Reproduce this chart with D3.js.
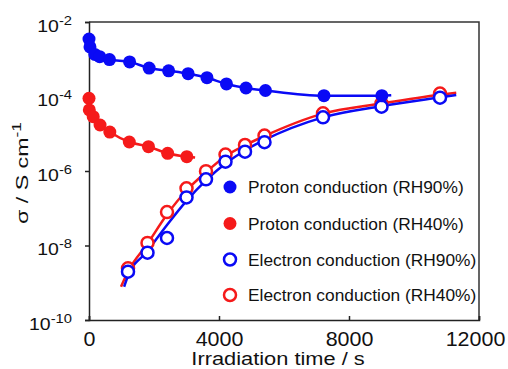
<!DOCTYPE html>
<html><head><meta charset="utf-8">
<script src="https://cdn.jsdelivr.net/npm/d3@7"></script>
<style>body{margin:0;background:#fff}svg{display:block}text{font-family:"Liberation Sans",Arial,sans-serif}</style>
</head><body>
<svg id="c" width="508" height="369"></svg>
<script>
// ---- data ----
const protonRH90Time = [0, 30, 180, 330, 630, 1250, 1850, 2450, 3050, 3630, 4230, 4830, 5430, 7230, 9010];
const protonRH90Sigma = [3.47e-3, 2.14e-3, 1.35e-3, 1.17e-3, 9.8e-4, 8.5e-4, 5.8e-4, 4.9e-4, 4.1e-4, 3.2e-4, 2.17e-4, 1.69e-4, 1.45e-4, 1.05e-4, 1.05e-4];
const protonRH40Time = [0, 10, 130, 340, 640, 1240, 1830, 2420, 3010];
const protonRH40Sigma = [8.95e-5, 4.35e-5, 2.87e-5, 1.72e-5, 1.11e-5, 6.0e-6, 4.5e-6, 2.99e-6, 2.42e-6];
const electronTime = [1200, 1800, 2400, 3000, 3600, 4200, 4800, 5400, 7200, 9000, 10800];
const electronRH90Sigma = [1.98e-9, 6.4e-9, 1.59e-8, 1.95e-7, 5.98e-7, 1.78e-6, 3.3e-6, 5.93e-6, 2.77e-5, 5.32e-5, 9.3e-5];
const electronRH40Sigma = [2.44e-9, 1.17e-8, 7.9e-8, 3.43e-7, 9.9e-7, 2.77e-6, 4.99e-6, 8.97e-6, 3.54e-5, 6.56e-5, 1.2e-4];
// fitted curves
const fitProtonRH90Time = [0, 30, 180, 330, 630, 1250, 1850, 2450, 3050, 3630, 4230, 4830, 5430, 7230, 9010, 9300];
const fitProtonRH90Sigma = [3.47e-3, 2.14e-3, 1.35e-3, 1.17e-3, 9.8e-4, 8.5e-4, 5.8e-4, 4.9e-4, 4.1e-4, 3.2e-4, 2.17e-4, 1.69e-4, 1.45e-4, 1.05e-4, 1.05e-4, 1.08e-4];
const fitProtonRH40Time = [0, 10, 130, 340, 640, 1240, 1830, 2420, 3010, 3265];
const fitProtonRH40Sigma = [8.95e-5, 4.35e-5, 2.87e-5, 1.72e-5, 1.11e-5, 6.0e-6, 4.5e-6, 2.99e-6, 2.42e-6, 2.3e-6];
const fitElectronRH90Time = [1080, 1200, 1800, 2400, 3000, 3600, 4200, 4800, 5400, 7200, 9000, 10800, 11300];
const fitElectronRH90Sigma = [7.8e-10, 1.51e-9, 7.1e-9, 3.55e-8, 1.58e-7, 5.6e-7, 1.58e-6, 3.55e-6, 6.8e-6, 2.75e-5, 5.5e-5, 9.5e-5, 1.1e-4];
const fitElectronRH40Time = [985, 1200, 1800, 2400, 3000, 3600, 4200, 4800, 5400, 7200, 9000, 10800, 11300];
const fitElectronRH40Sigma = [7.8e-10, 2.0e-9, 1.12e-8, 6.8e-8, 3.0e-7, 9.3e-7, 2.5e-6, 4.9e-6, 8.7e-6, 3.47e-5, 6.5e-5, 1.12e-4, 1.26e-4];
const xTicks = [0, 4000, 8000, 12000];
const yTicks = [1e-2, 1e-4, 1e-6, 1e-8, 1e-10];
const yTickExp = ["-2", "-4", "-6", "-8", "-10"];
const legendLabels = ["Proton conduction (RH90%)", "Proton conduction (RH40%)", "Electron conduction (RH90%)", "Electron conduction (RH40%)"];

// ---- chart ----
const BLUE = "#0a0af5", RED = "#f51a1a";
const FONT = "Liberation Sans, Arial, sans-serif";
const SX = 1.18; // horizontal stretch of the reference's type
const svg = d3.select("#c");
const L = 89, R = 479, T = 22, B = 320;
const x = d3.scaleLinear().domain([0, 12000]).range([L, R]);
const y = d3.scaleLog().domain([1e-10, 1e-2]).range([B, T]);
const zip = (a, b) => a.map((v, i) => [v, b[i]]);

// frame
svg.append("path").attr("d", `M${L},${T}H${R}V${B}`).attr("fill", "none").attr("stroke", "#333").attr("stroke-width", 1.5);

const xAxis = svg.append("g").attr("transform", `translate(0,${B})`)
  .call(d3.axisBottom(x).tickValues(xTicks).tickSize(-4).tickFormat(d3.format("d")));
xAxis.select(".domain").attr("stroke", "#222").attr("stroke-width", 1.5);
xAxis.selectAll(".tick line").attr("stroke", "#222").attr("stroke-width", 1.5);
xAxis.selectAll(".tick text").attr("font-size", 19.5).attr("fill", "#111").attr("font-family", FONT)
  .attr("y", 26).attr("dy", null).attr("transform", `scale(1.1,1)`)
  .attr("x", (d, i, n) => i === n.length - 1 ? -4 / 1.1 : 0);

const yAxis = svg.append("g").attr("transform", `translate(${L},0)`)
  .call(d3.axisLeft(y).tickValues(yTicks).tickSize(4).tickFormat(""));
yAxis.select(".domain").attr("stroke", "#222").attr("stroke-width", 1.5);
yAxis.selectAll(".tick line").attr("stroke", "#222").attr("stroke-width", 1.5);
yAxis.selectAll(".tick text").each(function (d, i) {
  const t = d3.select(this).attr("font-family", FONT).attr("fill", "#111")
    .attr("x", -17 / SX).attr("y", 9).attr("dy", null).attr("transform", `scale(${SX},1)`);
  t.append("tspan").attr("font-size", 16.5).text("10");
  t.append("tspan").attr("font-size", 12.5).attr("dy", -7).text(yTickExp[i]);
});

// axis titles
svg.append("text").attr("transform", `translate(278,365) scale(${SX},1)`).attr("text-anchor", "middle")
  .attr("font-size", 18.5).attr("fill", "#111").text("Irradiation time / s");
const yl = svg.append("text").attr("transform", "translate(28,173) rotate(-90) scale(1.45,1)").attr("text-anchor", "middle").attr("font-size", 16).attr("fill", "#111");
yl.append("tspan").text("σ / S cm");
yl.append("tspan").attr("font-size", 12).attr("dy", "-0.6em").text("-1");

const line = d3.line().x(d => x(d[0])).y(d => y(d[1])).curve(d3.curveMonotoneX);
const lines = [
  [fitElectronRH40Time, fitElectronRH40Sigma, RED],
  [fitElectronRH90Time, fitElectronRH90Sigma, BLUE],
  [fitProtonRH40Time, fitProtonRH40Sigma, RED],
  [fitProtonRH90Time, fitProtonRH90Sigma, BLUE]
];
lines.forEach(([t, s, c]) => svg.append("path").datum(zip(t, s)).attr("d", line).attr("fill", "none").attr("stroke", c).attr("stroke-width", 2.5));

function markers(t, s, c, open) {
  svg.append("g").selectAll("circle").data(zip(t, s)).join("circle")
    .attr("cx", d => x(d[0])).attr("cy", d => y(d[1]))
    .attr("r", open ? 6 : 6.5)
    .attr("fill", open ? "#fff" : c)
    .attr("stroke", open ? c : "none").attr("stroke-width", 2.5);
}
markers(electronTime, electronRH40Sigma, RED, true);
markers(electronTime, electronRH90Sigma, BLUE, true);
markers(protonRH40Time, protonRH40Sigma, RED, false);
markers(protonRH90Time, protonRH90Sigma, BLUE, false);

// legend
const legY = [187, 223.5, 259.5, 295];
const legStyle = [[BLUE, false], [RED, false], [BLUE, true], [RED, true]];
legendLabels.forEach((lab, i) => {
  const [c, open] = legStyle[i];
  svg.append("circle").attr("cx", 230).attr("cy", legY[i]).attr("r", open ? 6 : 6.5)
    .attr("fill", open ? "#fff" : c).attr("stroke", open ? c : "none").attr("stroke-width", 2.5);
  svg.append("text").attr("transform", `translate(248,${legY[i] + 6}) scale(1.07,1)`)
    .attr("font-size", 16.2).attr("fill", "#111").text(lab);
});
</script>
</body></html>
